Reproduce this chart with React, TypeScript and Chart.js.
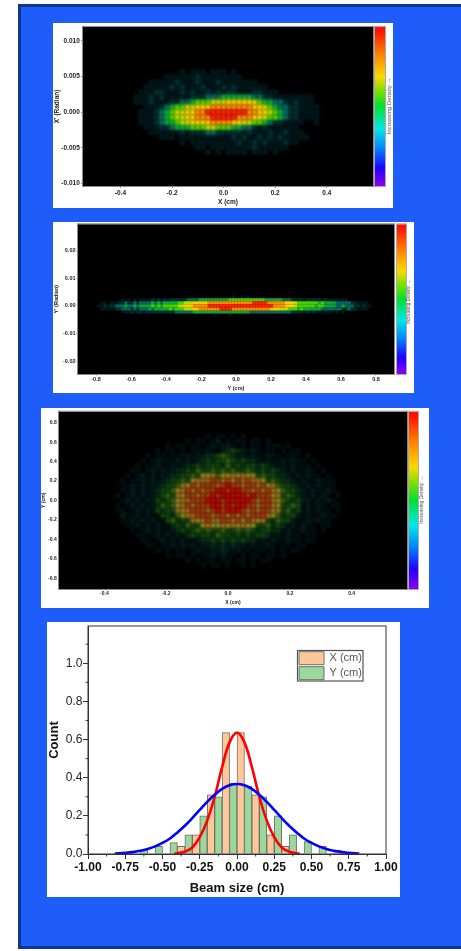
import React, { useEffect, useRef } from "react";
import { Chart, registerables } from "chart.js";

Chart.register(...registerables);

// ---------- Colour bar ----------
const colorbarColors = ["#ff1000", "#ff8000", "#ffd800", "#7ee000", "#00e030", "#00e8e8", "#0080ff", "#2000ff", "#9000f0"];
const colorbarStops = [0.02, 0.17, 0.31, 0.4, 0.5, 0.64, 0.77, 0.89, 1];
const colorbarLabel = "Increasing Density \u2192";

// ---------- Density levels (digit 1..9 in the rows below) ----------
const brightLevels = ["#01181c", "#03302f", "#08685e", "#0ca83c", "#48d004", "#b8dc00", "#f4d000", "#ff8c00", "#ff2400"];
const dimLevels = ["#021012", "#041c1a", "#082e16", "#134510", "#2f5e10", "#8a8420", "#9a6a1c", "#a03c0e", "#b80c04"];

// ---------- Panel 1: X - X' ----------
const phaseXTicksX = [-0.4, -0.2, 0, 0.2, 0.4];
const phaseXTicksY = [-0.01, -0.005, 0, 0.005, 0.01];
const phaseXRows = [
  "000 000 000 001 011 101 110 100 000 000 000 000 000",
  "000 000 001 111 112 111 111 110 000 000 000 000 000",
  "000 001 111 121 112 111 211 111 110 000 000 000 000",
  "000 011 111 212 111 211 121 211 111 100 000 000 000",
  "000 111 221 112 121 121 212 211 122 111 000 000 000",
  "001 112 121 111 122 233 344 444 433 221 111 111 100",
  "001 112 111 223 345 556 667 777 765 443 321 211 100",
  "000 011 123 455 667 778 888 888 877 654 332 211 110",
  "000 111 234 566 778 899 999 999 887 765 432 211 110",
  "000 111 234 566 778 889 999 988 877 655 432 211 110",
  "000 111 234 456 677 778 888 776 655 432 211 110 010",
  "000 011 122 344 455 566 555 443 321 211 111 100 000",
  "000 001 111 112 122 233 222 221 211 121 121 110 000",
  "000 000 011 101 111 111 111 212 112 121 211 111 000",
  "000 000 000 001 011 111 111 121 121 211 121 100 000",
  "000 000 000 000 001 101 111 111 121 111 110 000 000",
  "000 000 000 000 000 010 101 111 011 101 000 000 000",
];

// ---------- Panel 2: Y - Y' ----------
const phaseYTicksX = [-0.8, -0.6, -0.4, -0.2, 0, 0.2, 0.4, 0.6, 0.8];
const phaseYTicksY = [-0.02, -0.01, 0, 0.01, 0.02];
const phaseYRows = [
  "00000 000000000 0000000000000 00000 00000 0000000010010100000000 0000 0000 0000000000000 0000000 00000",
  "00000 000101010 1111212121222 22233 33444 4444444555555555555444 4443 3322 2212222212111 1111000 00000",
  "01101 112232232 3333434344444 55666 77777 8888888888888889999988 8888 7776 5555555454444 3333322 11110",
  "11212 233343343 4444545455555 66777 88888 9999999999999999999999 8888 7776 5555554554444 3343332 21211",
  "01111 122333232 3334344444545 55666 77888 8888999988888888888887 7766 6555 4544444433333 3322322 11110",
  "00000 000111212 2122222222223 33333 44444 4444444444444433333333 3333 3322 2212121111110 1010000 00000",
  "00000 000000000 0000000000000 00000 00000 0010000100000000000000 0000 0000 0000000000000 0000000 00000",
];

// ---------- Panel 3: X - Y ----------
const spotTicksX = [-0.4, -0.2, 0, 0.2, 0.4];
const spotTicksY = [-0.8, -0.6, -0.4, -0.2, 0, 0.2, 0.4, 0.6, 0.8];
const spotRows = [
  "00000000000000000 01011010100 00000000000000000",
  "00000000000000 10110120101101101 00000000000000",
  "0000000000 1011011012122101011011101 0000000000",
  "00000000 10110101112102343212101101011 00000000",
  "000000 1011011121 2233454322 1211211011 101 000000",
  "00000 101211121212 34344543433 212112121101 00000",
  "0000 1011211212 33434443534344343 2121211101 0000",
  "000 110121212 334354454545445434343 212112101 000",
  "00 101212122 334454 66756676766 454433 212121101 00",
  "0 101121212 34454 67 77887868787 76 45433 212112111 0",
  "0 11212122 3445 76 878887898878878 67 5443 21212111 0",
  "01121212 3445 67 878788 99899 887878 76 5443 21211210",
  "10121212 3454 76 88788 9899999 89888 67 4543 21212101",
  "01212122 4345 67 7888 999899999 8788 76 5434 22121210",
  "10121212 3545 67 87888 9989899 88788 76 4454 12121011",
  "11012121 4344 76 788878 98999 878788 67 4534 12121101",
  "0 21121211 4435 67 788878878787888 76 5344 21211211 0",
  "0 112121211 45344 76 78778878687 67 43544 211212110 0",
  "00 112121211 343544 67667676766 445343 121211011 00",
  "000 101212112 343454544544545434433 121121101 000",
  "0000 1101212121 34344354434343443 1212110110 0000",
  "00000 110121212112 33434343433 121211211011 00000",
  "000000 1101121212 1223232322 1211210110 110 000000",
  "00000000 10101101211223212110110101011 00000000",
  "0000000000 1011010112 1211010110 11010 0000000000",
  "00000000000000 10101101101101011 00000000000000",
  "00000000000000000 10110100101 00000000000000000",
];

// ---------- Panel 4: histogram ----------
const binCenters = [-0.65, -0.55, -0.45, -0.35, -0.25, -0.15, -0.05, 0.05, 0.15, 0.25, 0.35, 0.45, 0.55, 0.65];
const xCounts = [null, null, null, 0.04, 0.1, 0.31, 0.636, 0.636, 0.31, 0.1, 0.04, null, null, null];
const yCounts = [0.02, 0.04, 0.06, 0.1, 0.2, 0.3, 0.37, 0.355, 0.3, 0.2, 0.1, 0.065, 0.04, 0.02];
const redX = [-0.42, -0.4, -0.35, -0.3, -0.25, -0.2, -0.15, -0.1, -0.05, 0, 0.05, 0.1, 0.15, 0.2, 0.25, 0.3, 0.35, 0.4, 0.42];
const redY = [0.002, 0.004, 0.012, 0.034, 0.088, 0.175, 0.3, 0.455, 0.585, 0.636, 0.585, 0.455, 0.3, 0.175, 0.088, 0.034, 0.012, 0.004, 0.002];
const blueX = [-0.82, -0.75, -0.7, -0.65, -0.6, -0.55, -0.5, -0.45, -0.4, -0.35, -0.3, -0.25, -0.2, -0.15, -0.1, -0.05, 0, 0.05, 0.1, 0.15, 0.2, 0.25, 0.3, 0.35, 0.4, 0.45, 0.5, 0.55, 0.6, 0.65, 0.7, 0.75, 0.82];
const blueY = [0.002, 0.006, 0.01, 0.017, 0.026, 0.04, 0.058, 0.081, 0.113, 0.148, 0.188, 0.231, 0.273, 0.31, 0.341, 0.36, 0.367, 0.36, 0.341, 0.31, 0.273, 0.231, 0.188, 0.148, 0.113, 0.081, 0.058, 0.04, 0.026, 0.017, 0.01, 0.006, 0.002];
const histTicksX = [-1, -0.75, -0.5, -0.25, 0, 0.25, 0.5, 0.75, 1];
const histMinorX = [-0.875, -0.625, -0.375, -0.125, 0.125, 0.375, 0.625, 0.875];
const histTicksY = [0, 0.2, 0.4, 0.6, 0.8, 1.0];
const histMinorY = [0.1, 0.3, 0.5, 0.7, 0.9, 1.1];

const FONT = "'Liberation Sans', Arial, sans-serif";

type Panel = {
  box: number[]; plot: number[]; xRange: number[]; yRange: number[];
  xTicks: number[]; yTicks: number[]; xDec: number; yDec: number;
  xTitle: string; yTitle: string; rows: string[]; levels: string[];
  grid: number[]; cell: number; soft: number; font: number; tickLen: number; xPad: number; yPad: number;
  xTitlePad: number; yTitlePad: number; barX: number; barW: number; labelX: number; labelY: number; labelFont: number;
};

const panels: Panel[] = [
  { box: [53, 23, 340, 185], plot: [30, 2, 290, 161], xRange: [-0.545, 0.579], yRange: [-0.01034, 0.01195],
    xTicks: phaseXTicksX, yTicks: phaseXTicksY, xDec: 1, yDec: 3, xTitle: "X (cm)", yTitle: "X' (Radian)",
    rows: phaseXRows, levels: brightLevels, grid: [-0.38, 0.02, 0.0056, -0.0007], cell: 5.5, soft: 1.3,
    font: 6.5, tickLen: 2, xPad: 1, yPad: 1.2, xTitlePad: 2.2, yTitlePad: 0.2, barX: 322, barW: 10, labelX: 336, labelY: 83, labelFont: 6 },
  { box: [53, 222, 361, 171], plot: [25, 2, 316, 150], xRange: [-0.903, 0.903], yRange: [-0.0247, 0.0296],
    xTicks: phaseYTicksX, yTicks: phaseYTicksY, xDec: 1, yDec: 2, xTitle: "Y (cm)", yTitle: "Y' (Radian)",
    rows: phaseYRows, levels: brightLevels, grid: [-0.782, 0.017, 0.0033, -0.0011], cell: 3.2, soft: 0.6,
    font: 5.5, tickLen: 1.5, xPad: 0.7, yPad: 1, xTitlePad: 1.7, yTitlePad: 1.7, barX: 344, barW: 9, labelX: 356, labelY: 80, labelFont: 4.6 },
  { box: [41, 408, 388, 200], plot: [18, 2, 348, 179], xRange: [-0.547, 0.579], yRange: [-0.91, 0.914],
    xTicks: spotTicksX, yTicks: spotTicksY, xDec: 1, yDec: 1, xTitle: "X (cm)", yTitle: "Y (cm)",
    rows: spotRows, levels: dimLevels, grid: [-0.3564, 0.0162, 0.663, -0.051], cell: 5.2, soft: 1.2,
    font: 5, tickLen: 1, xPad: 0.5, yPad: 1.3, xTitlePad: 2, yTitlePad: 0, barX: 368, barW: 9, labelX: 381, labelY: 92, labelFont: 5 },
];

function HeatChart({ p }: { p: Panel }) {
  const ref = useRef<HTMLCanvasElement>(null);
  useEffect(() => {
    const [, , cw, ch] = p.box;
    const [pl, pt, pw, ph] = p.plot;
    const [x0, dx, y0, dy] = p.grid;
    const cells: { x: number; y: number; level: number }[] = [];
    p.rows.forEach((row, r) => {
      row.replace(/ /g, "").split("").forEach((digit, c) => {
        const level = Number(digit);
        if (level > 0) cells.push({ x: x0 + dx * c, y: y0 + dy * r, level });
      });
    });
    cells.sort((a, b) => a.level - b.level);
    const data = cells.map(({ x, y }) => ({ x, y }));
    const colors = cells.map((c) => p.levels[c.level - 1]);
    const frame = {
      id: "frame",
      beforeDatasetsDraw(chart: any) {
        const { ctx, chartArea: a } = chart;
        ctx.fillStyle = "#000";
        ctx.fillRect(a.left, a.top, a.width, a.height);
        ctx.filter = `blur(${p.soft}px)`;
      },
      afterDatasetsDraw(chart: any) {
        chart.ctx.filter = "none";
      },
      afterDraw(chart: any) {
        const { ctx, chartArea: a } = chart;
        ctx.save();
        ctx.strokeStyle = "#8a8a8a";
        ctx.lineWidth = 1;
        ctx.strokeRect(a.left - 0.5, a.top - 0.5, a.width + 1, a.height + 1);
        const g = ctx.createLinearGradient(0, a.top, 0, a.bottom);
        colorbarColors.forEach((c, i) => g.addColorStop(colorbarStops[i], c));
        ctx.fillStyle = g;
        ctx.fillRect(p.barX, a.top, p.barW, a.height);
        ctx.strokeStyle = "#b0a8a8";
        ctx.strokeRect(p.barX - 0.5, a.top - 0.5, p.barW + 1, a.height + 1);
        ctx.translate(p.labelX, p.labelY);
        ctx.rotate(-Math.PI / 2);
        ctx.font = `${p.labelFont}px ${FONT}`;
        ctx.fillStyle = "#555";
        ctx.textAlign = "center";
        ctx.textBaseline = "middle";
        ctx.fillText(colorbarLabel, 0, 0);
        ctx.restore();
      },
    };
    const tickFont = { family: FONT, size: p.font, weight: "bold" as const, lineHeight: 1.2 };
    const chart = new Chart(ref.current!, {
      type: "scatter",
      data: {
        datasets: [{
          data, pointStyle: "rect", pointRadius: p.cell / Math.SQRT2, pointBorderWidth: 0,
          pointBackgroundColor: colors, pointHoverRadius: p.cell / Math.SQRT2,
        }],
      },
      plugins: [frame],
      options: {
        animation: false, responsive: false, events: [], devicePixelRatio: 1,
        layout: { padding: { top: pt, right: cw - pl - pw, left: 0, bottom: 0 } },
        plugins: { legend: { display: false }, tooltip: { enabled: false } },
        scales: {
          x: {
            type: "linear", min: p.xRange[0], max: p.xRange[1],
            afterBuildTicks: (s: any) => { s.ticks = p.xTicks.map((value) => ({ value })); },
            afterFit: (s: any) => { s.height = ch - pt - ph; s.paddingLeft = 0; s.paddingRight = 0; },
            grid: { drawOnChartArea: false, color: "#888", tickLength: p.tickLen },
            border: { color: "#8a8a8a" },
            ticks: { autoSkip: false, maxRotation: 0, padding: p.xPad, color: "#222", font: tickFont,
              callback: (v: any) => Number(v).toFixed(p.xDec) },
            title: { display: true, text: p.xTitle, color: "#222", font: tickFont, padding: { top: 0, bottom: p.xTitlePad } },
          },
          y: {
            type: "linear", min: p.yRange[0], max: p.yRange[1],
            afterBuildTicks: (s: any) => { s.ticks = p.yTicks.map((value) => ({ value })); },
            afterFit: (s: any) => { s.width = pl; s.paddingTop = 0; s.paddingBottom = 0; },
            grid: { drawOnChartArea: false, color: "#888", tickLength: p.tickLen },
            border: { color: "#8a8a8a" },
            ticks: { autoSkip: false, padding: p.yPad, color: "#222", font: tickFont,
              callback: (v: any) => Number(v).toFixed(p.yDec) },
            title: { display: true, text: p.yTitle, color: "#222", font: tickFont, padding: { top: 0, bottom: p.yTitlePad } },
          },
        },
      },
    } as any);
    return () => chart.destroy();
  }, [p]);
  return (
    <canvas ref={ref} width={p.box[2]} height={p.box[3]}
      style={{ position: "absolute", left: p.box[0], top: p.box[1], width: p.box[2], height: p.box[3],
        background: "#fff", filter: "blur(0.5px)" }} />
  );
}

function HistChart() {
  const ref = useRef<HTMLCanvasElement>(null);
  useEffect(() => {
    const decor = {
      id: "decor",
      beforeDraw(chart: any) {
        const { ctx, legend } = chart;
        legend.left = 250;
        legend.top = 27.7;
        ctx.save();
        ctx.strokeStyle = "#555";
        ctx.lineWidth = 1.2;
        ctx.strokeRect(250.5, 28.5, 65.5, 30.5);
        ctx.restore();
      },
      afterDraw(chart: any) {
        const { ctx, chartArea: a, scales } = chart;
        ctx.save();
        ctx.strokeStyle = "#333";
        ctx.lineWidth = 1;
        ctx.strokeRect(a.left, a.top, a.width, a.height);
        ctx.beginPath();
        histMinorX.forEach((v) => {
          const x = scales.x.getPixelForValue(v);
          ctx.moveTo(x, a.bottom);
          ctx.lineTo(x, a.bottom + 2.5);
        });
        histMinorY.forEach((v) => {
          const y = scales.y.getPixelForValue(v);
          ctx.moveTo(a.left, y);
          ctx.lineTo(a.left - 2.5, y);
        });
        ctx.stroke();
        ctx.restore();
      },
    };
    const bold = (size: number) => ({ family: FONT, size, weight: "bold" as const });
    const chart = new Chart(ref.current!, {
      type: "bar",
      data: {
        datasets: [
          { type: "line", label: "Blue fit", data: blueX.map((x, i) => ({ x, y: blueY[i] })), borderColor: "#0000ff",
            borderWidth: 2.6, pointRadius: 0, tension: 0.4, fill: false },
          { type: "line", label: "Red fit", data: redX.map((x, i) => ({ x, y: redY[i] })), borderColor: "#ff0000",
            borderWidth: 2.6, pointRadius: 0, tension: 0.4, fill: false },
          { label: "X (cm)", data: binCenters.map((x, i) => ({ x, y: xCounts[i] })), backgroundColor: "#ffc898",
            borderColor: "#6e6e6e", borderWidth: 1, barPercentage: 1, categoryPercentage: 1 },
          { label: "Y (cm)", data: binCenters.map((x, i) => ({ x, y: yCounts[i] })), backgroundColor: "#9cd89c",
            borderColor: "#6e6e6e", borderWidth: 1, barPercentage: 1, categoryPercentage: 1 },
        ],
      },
      plugins: [decor],
      options: {
        animation: false, responsive: false, events: [], devicePixelRatio: 1,
        layout: { padding: { top: 4, right: 14, left: 0, bottom: 0 } },
        plugins: {
          tooltip: { enabled: false },
          legend: {
            position: "chartArea", align: "start",
            labels: { boxWidth: 25, boxHeight: 13, padding: 2, color: "#555", font: { family: FONT, size: 11 },
              filter: (item: any) => item.text.includes("(cm)") },
          },
        },
        scales: {
          x: {
            type: "linear", min: -1, max: 1, offset: false,
            afterBuildTicks: (s: any) => { s.ticks = histTicksX.map((value) => ({ value })); },
            afterFit: (s: any) => { s.height = 43; s.paddingLeft = 0; s.paddingRight = 0; },
            grid: { drawOnChartArea: false, offset: false, color: "#333", tickLength: 5 },
            border: { color: "#333" },
            ticks: { autoSkip: false, maxRotation: 0, padding: 1, color: "#111", font: bold(12),
              callback: (v: any) => Number(v).toFixed(2) },
            title: { display: true, text: "Beam size (cm)", color: "#111", font: bold(13), padding: { top: 0, bottom: 1 } },
          },
          y: {
            type: "linear", min: 0, max: 1.195,
            afterBuildTicks: (s: any) => { s.ticks = histTicksY.map((value) => ({ value })); },
            afterFit: (s: any) => { s.width = 41; s.paddingTop = 0; s.paddingBottom = 0; },
            grid: { drawOnChartArea: false, color: "#333", tickLength: 5 },
            border: { color: "#333" },
            ticks: { autoSkip: false, padding: 0.5, color: "#222", font: { family: FONT, size: 12 },
              callback: (v: any) => Number(v).toFixed(1) },
            title: { display: true, text: "Count", color: "#111", font: bold(13), padding: { top: 0, bottom: 2 } },
          },
        },
      },
    } as any);
    return () => chart.destroy();
  }, []);
  return (
    <canvas ref={ref} width={353} height={275}
      style={{ position: "absolute", left: 47, top: 622, width: 353, height: 275, background: "#fff" }} />
  );
}

export default function App() {
  return (
    <div style={{ position: "absolute", left: 0, top: 0, width: 461, height: 951, overflow: "hidden", background: "#fff" }}>
      <div style={{ position: "absolute", left: 18, top: 4, width: 470, height: 945, boxSizing: "border-box",
        background: "#1f5dfb", border: "3px solid #0f378f" }} />
      {panels.map((p, i) => <HeatChart key={i} p={p} />)}
      <HistChart />
    </div>
  );
}
